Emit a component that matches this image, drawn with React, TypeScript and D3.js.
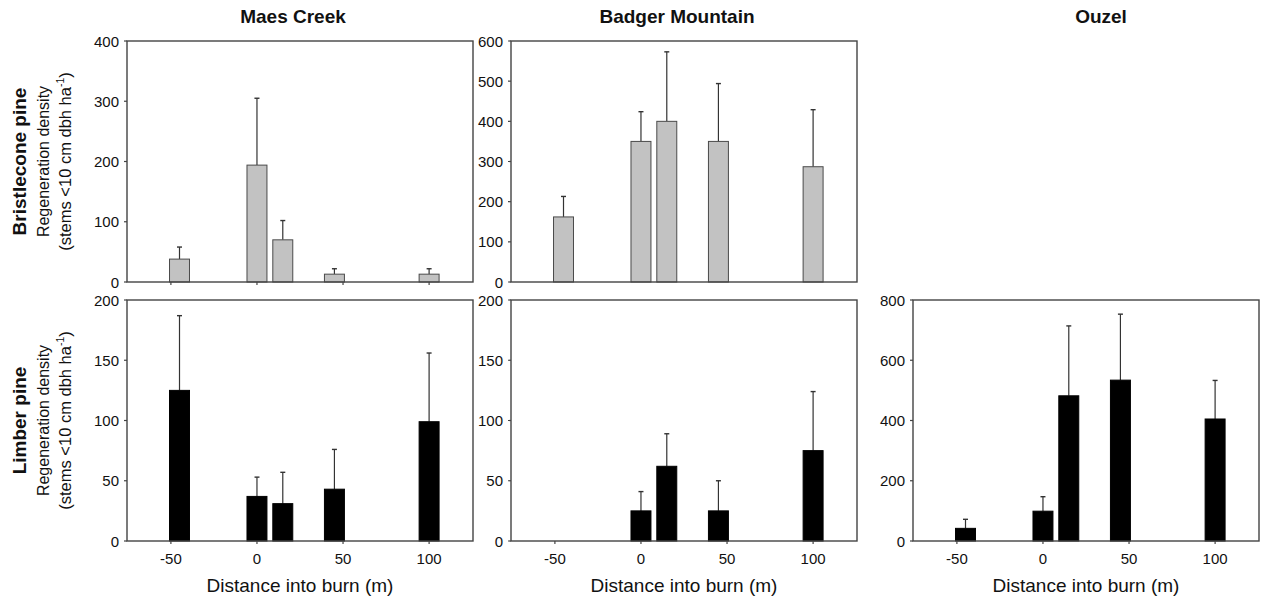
import React from "react";
import * as d3 from "d3";

// ---- Data ----
const distances = [-45, 0, 15, 45, 100];
const xTicks = [-50, 0, 50, 100];
const sites = ["Maes Creek", "Badger Mountain", "Ouzel"];
const speciesLabels = ["Bristlecone pine", "Limber pine"];

const maesBristleMean = [38, 194, 70, 13, 13];
const maesBristleSE = [20, 111, 32, 9, 9];
const badgerBristleMean = [162, 350, 400, 350, 287];
const badgerBristleSE = [51, 74, 173, 144, 142];

const maesLimberMean = [125, 37, 31, 43, 99];
const maesLimberSE = [62, 16, 26, 33, 57];
const badgerLimberMean = [0, 25, 62, 25, 75];
const badgerLimberSE = [0, 16, 27, 25, 49];
const ouzelLimberMean = [42, 99, 482, 534, 405];
const ouzelLimberSE = [30, 48, 232, 219, 128];

const maesBristleTicks = [0, 100, 200, 300, 400];
const badgerBristleTicks = [0, 100, 200, 300, 400, 500, 600];
const limberTicks200 = [0, 50, 100, 150, 200];
const ouzelLimberTicks = [0, 200, 400, 600, 800];

// ---- Layout ----
const colLeft = [127, 511, 913];
const rowTop = [41, 300];
const PW = 346;
const PH = 241;
const titleX = [293, 677, 1101];
const FONT = "Liberation Sans, Arial, Helvetica, sans-serif";

type Panel = {
  col: number;
  row: number;
  mean: number[];
  se: number[];
  ticks: number[];
  fill: string;
  stroke: string;
  xTickMarks: boolean;
  xLabels: boolean;
};

const panels: Panel[] = [
  { col: 0, row: 0, mean: maesBristleMean, se: maesBristleSE, ticks: maesBristleTicks, fill: "#c2c2c2", stroke: "#4a4a4a", xTickMarks: true, xLabels: false },
  { col: 1, row: 0, mean: badgerBristleMean, se: badgerBristleSE, ticks: badgerBristleTicks, fill: "#c2c2c2", stroke: "#4a4a4a", xTickMarks: false, xLabels: false },
  { col: 0, row: 1, mean: maesLimberMean, se: maesLimberSE, ticks: limberTicks200, fill: "#000", stroke: "#000", xTickMarks: true, xLabels: true },
  { col: 1, row: 1, mean: badgerLimberMean, se: badgerLimberSE, ticks: limberTicks200, fill: "#000", stroke: "#000", xTickMarks: true, xLabels: true },
  { col: 2, row: 1, mean: ouzelLimberMean, se: ouzelLimberSE, ticks: ouzelLimberTicks, fill: "#000", stroke: "#000", xTickMarks: true, xLabels: true },
];

const BAR_W = 11.6; // in x units

function PanelView({ p }: { p: Panel }) {
  const left = colLeft[p.col];
  const top = rowTop[p.row];
  const x = d3.scaleLinear().domain([-75.5, 125.5]).range([0, PW]);
  const yMax = p.ticks[p.ticks.length - 1];
  const y = d3.scaleLinear().domain([0, yMax]).range([PH, 0]);
  const bw = x(BAR_W) - x(0);
  const axisColor = "#444";
  return (
    <g transform={`translate(${left},${top})`}>
      {p.mean.map((m, i) => {
        if (m <= 0) return null;
        const cx = x(distances[i]);
        const yTop = y(m);
        const yErr = y(m + p.se[i]);
        return (
          <g key={i}>
            <line x1={cx} x2={cx} y1={yTop} y2={yErr} stroke="#333" strokeWidth={1.2} />
            <line x1={cx - 2.5} x2={cx + 2.5} y1={yErr} y2={yErr} stroke="#333" strokeWidth={1.4} />
            <rect x={cx - bw / 2} y={yTop} width={bw} height={PH - yTop} fill={p.fill} stroke={p.stroke} strokeWidth={1} />
          </g>
        );
      })}
      <rect x={0} y={0} width={PW} height={PH} fill="none" stroke={axisColor} strokeWidth={1.4} />
      {p.ticks.map((t) => (
        <g key={t}>
          <line x1={-3} x2={0} y1={y(t)} y2={y(t)} stroke={axisColor} strokeWidth={1.2} />
          <text x={-8} y={y(t)} textAnchor="end" dominantBaseline="central" fontSize={15} fontFamily={FONT} fill="#111">
            {t}
          </text>
        </g>
      ))}
      {p.xTickMarks &&
        xTicks.map((t) => (
          <line key={t} x1={x(t)} x2={x(t)} y1={PH} y2={PH + 3} stroke={axisColor} strokeWidth={1.2} />
        ))}
      {p.xLabels &&
        xTicks.map((t) => (
          <text key={"l" + t} x={x(t)} y={PH + 23} textAnchor="middle" fontSize={15} fontFamily={FONT} fill="#111">
            {t}
          </text>
        ))}
      {p.xLabels && (
        <text x={PW / 2} y={PH + 51} textAnchor="middle" fontSize={19} fontFamily={FONT} fill="#111">
          Distance into burn (m)
        </text>
      )}
    </g>
  );
}

export default function App() {
  return (
    <svg width={1262} height={598} style={{ position: "absolute", left: 0, top: 0, background: "#fff" }}>
      <rect x={0} y={0} width={1262} height={598} fill="#fff" />
      {sites.map((s, i) => (
        <text key={s} x={titleX[i]} y={23} textAnchor="middle" fontSize={19} fontWeight="bold" fontFamily={FONT} fill="#111">
          {s}
        </text>
      ))}
      {speciesLabels.map((s, r) => {
        const cy = rowTop[r] + PH / 2;
        return (
          <g key={s}>
            <text transform={`translate(26,${cy}) rotate(-90)`} textAnchor="middle" fontSize={19} fontWeight="bold" fontFamily={FONT} fill="#111">
              {s}
            </text>
            <text transform={`translate(49,${cy}) rotate(-90)`} textAnchor="middle" fontSize={16} fontFamily={FONT} fill="#111">
              Regeneration density
            </text>
            <text transform={`translate(71,${cy}) rotate(-90)`} textAnchor="middle" fontSize={16.5} fontFamily={FONT} fill="#111">
              {"(stems <10 cm dbh ha"}
              <tspan fontSize={10.5} dy={-7}>-1</tspan>
              <tspan dy={7}>)</tspan>
            </text>
          </g>
        );
      })}
      {panels.map((p, i) => (
        <PanelView key={i} p={p} />
      ))}
    </svg>
  );
}
